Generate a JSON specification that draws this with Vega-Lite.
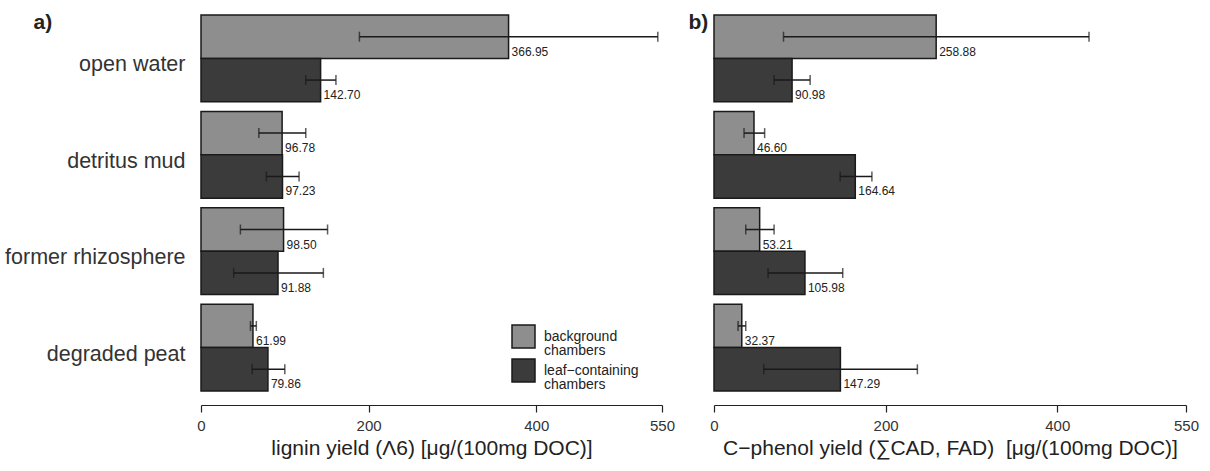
{
  "$schema": "https://vega.github.io/schema/vega-lite/v6.json",
  "background": "white",
  "padding": {"left": 4, "top": 11, "right": 5, "bottom": 5},
  "spacing": 13,
  "config": {
    "font": "Liberation Sans",
    "view": {"stroke": null},
    "style": {"guide-label": {"lineHeight": 14}}
  },
  "datasets": {
    "yields": [
      {"panel": "a", "site": "open water", "chamber": "background chambers", "mean": 366.95, "lo": 189, "hi": 545},
      {"panel": "a", "site": "open water", "chamber": "leaf-containing chambers", "mean": 142.70, "lo": 125, "hi": 161},
      {"panel": "a", "site": "detritus mud", "chamber": "background chambers", "mean": 96.78, "lo": 69, "hi": 125},
      {"panel": "a", "site": "detritus mud", "chamber": "leaf-containing chambers", "mean": 97.23, "lo": 78, "hi": 117},
      {"panel": "a", "site": "former rhizosphere", "chamber": "background chambers", "mean": 98.50, "lo": 47, "hi": 151},
      {"panel": "a", "site": "former rhizosphere", "chamber": "leaf-containing chambers", "mean": 91.88, "lo": 39, "hi": 146},
      {"panel": "a", "site": "degraded peat", "chamber": "background chambers", "mean": 61.99, "lo": 59, "hi": 66},
      {"panel": "a", "site": "degraded peat", "chamber": "leaf-containing chambers", "mean": 79.86, "lo": 61, "hi": 100},
      {"panel": "b", "site": "open water", "chamber": "background chambers", "mean": 258.88, "lo": 81, "hi": 437},
      {"panel": "b", "site": "open water", "chamber": "leaf-containing chambers", "mean": 90.98, "lo": 70, "hi": 112},
      {"panel": "b", "site": "detritus mud", "chamber": "background chambers", "mean": 46.60, "lo": 35, "hi": 59},
      {"panel": "b", "site": "detritus mud", "chamber": "leaf-containing chambers", "mean": 164.64, "lo": 147, "hi": 184},
      {"panel": "b", "site": "former rhizosphere", "chamber": "background chambers", "mean": 53.21, "lo": 37, "hi": 70},
      {"panel": "b", "site": "former rhizosphere", "chamber": "leaf-containing chambers", "mean": 105.98, "lo": 63, "hi": 150},
      {"panel": "b", "site": "degraded peat", "chamber": "background chambers", "mean": 32.37, "lo": 28, "hi": 37},
      {"panel": "b", "site": "degraded peat", "chamber": "leaf-containing chambers", "mean": 147.29, "lo": 58, "hi": 237}
    ]
  },
  "hconcat": [
    {
      "width": 461,
      "height": 376,
      "data": {"name": "yields"},
      "transform": [{"filter": "datum.panel == 'a'"}],
      "encoding": {
        "y": {
          "field": "site", "type": "nominal",
          "sort": ["open water", "detritus mud", "former rhizosphere", "degraded peat"],
          "scale": {"paddingInner": 0.1, "paddingOuter": 0},
          "axis": {
            "title": "a)", "titleAngle": 0, "titleX": -168, "titleY": -4,
            "titleAlign": "left", "titleBaseline": "top",
            "titleFontSize": 21, "titleFontWeight": "bold", "titleColor": "#222",
            "domain": false, "ticks": false, "labelFontSize": 21.5, "labelColor": "#333",
            "labelPadding": 16, "labelLimit": 300, "labelOffset": 7
          }
        },
        "yOffset": {
          "field": "chamber", "type": "nominal",
          "sort": ["background chambers", "leaf-containing chambers"],
          "scale": {"paddingInner": 0, "paddingOuter": 0}
        }
      },
      "layer": [
        {
          "mark": {"type": "bar", "stroke": "#1a1a1a", "strokeWidth": 1.5},
          "encoding": {
            "x": {
              "field": "mean", "type": "quantitative",
              "scale": {"domain": [0, 550], "nice": false, "zero": true},
              "axis": {
                "title": "lignin yield (Λ6) [μg/(100mg DOC)]",
                "values": [0, 200, 400, 550], "grid": false, "offset": 14,
                "domainColor": "#222", "domainWidth": 1.2, "tickColor": "#222", "tickWidth": 1.2,
                "tickSize": 7, "labelFontSize": 15, "labelColor": "#333", "labelPadding": 6,
                "labelFlush": false,
                "titleFontSize": 21, "titleFontWeight": "normal", "titleColor": "#222", "titlePadding": 4
              }
            },
            "color": {
              "field": "chamber", "type": "nominal",
              "scale": {"domain": ["background chambers", "leaf-containing chambers"], "range": ["#8e8e8e", "#3b3b3b"]},
              "legend": {
                "orient": "none", "legendX": 310, "legendY": 309, "title": null,
                "symbolType": "square", "symbolSize": 529, "symbolStrokeColor": "#1a1a1a", "symbolStrokeWidth": 1.5,
                "symbolOpacity": 1,
                "labelFontSize": 14, "labelColor": "#222", "labelOffset": 8, "rowPadding": -21, "padding": 0,
                "labelExpr": "datum.label == 'background chambers' ? ['background', 'chambers'] : ['leaf−containing', 'chambers']"
              }
            }
          }
        },
        {
          "mark": {"type": "rule", "color": "#1a1a1a", "strokeWidth": 1.5},
          "encoding": {"x": {"field": "lo", "type": "quantitative"}, "x2": {"field": "hi"}}
        },
        {
          "mark": {"type": "tick", "color": "#1a1a1a", "thickness": 1.5, "size": 10, "orient": "vertical"},
          "encoding": {"x": {"field": "lo", "type": "quantitative"}}
        },
        {
          "mark": {"type": "tick", "color": "#1a1a1a", "thickness": 1.5, "size": 10, "orient": "vertical"},
          "encoding": {"x": {"field": "hi", "type": "quantitative"}}
        },
        {
          "mark": {"type": "text", "align": "left", "baseline": "middle", "dx": 3, "dy": 15, "fontSize": 12, "color": "#222"},
          "encoding": {
            "x": {"field": "mean", "type": "quantitative"},
            "text": {"field": "mean", "type": "quantitative", "format": ".2f"}
          }
        }
      ]
    },
    {
      "width": 472,
      "height": 376,
      "data": {"name": "yields"},
      "transform": [{"filter": "datum.panel == 'b'"}],
      "encoding": {
        "y": {
          "field": "site", "type": "nominal",
          "sort": ["open water", "detritus mud", "former rhizosphere", "degraded peat"],
          "scale": {"paddingInner": 0.1, "paddingOuter": 0},
          "axis": {
            "title": "b)", "titleAngle": 0, "titleX": -26, "titleY": -4,
            "titleAlign": "left", "titleBaseline": "top",
            "titleFontSize": 21, "titleFontWeight": "bold", "titleColor": "#222",
            "domain": false, "ticks": false, "labels": false
          }
        },
        "yOffset": {
          "field": "chamber", "type": "nominal",
          "sort": ["background chambers", "leaf-containing chambers"],
          "scale": {"paddingInner": 0, "paddingOuter": 0}
        }
      },
      "layer": [
        {
          "mark": {"type": "bar", "stroke": "#1a1a1a", "strokeWidth": 1.5},
          "encoding": {
            "x": {
              "field": "mean", "type": "quantitative",
              "scale": {"domain": [0, 550], "nice": false, "zero": true},
              "axis": {
                "title": "C−phenol yield (∑CAD, FAD)\u00a0 [μg/(100mg DOC)]",
                "values": [0, 200, 400, 550], "grid": false, "offset": 14,
                "domainColor": "#222", "domainWidth": 1.2, "tickColor": "#222", "tickWidth": 1.2,
                "tickSize": 7, "labelFontSize": 15, "labelColor": "#333", "labelPadding": 6,
                "labelFlush": false,
                "titleFontSize": 21, "titleFontWeight": "normal", "titleColor": "#222", "titlePadding": 4
              }
            },
            "color": {
              "field": "chamber", "type": "nominal",
              "scale": {"domain": ["background chambers", "leaf-containing chambers"], "range": ["#8e8e8e", "#3b3b3b"]},
              "legend": null
            }
          }
        },
        {
          "mark": {"type": "rule", "color": "#1a1a1a", "strokeWidth": 1.5},
          "encoding": {"x": {"field": "lo", "type": "quantitative"}, "x2": {"field": "hi"}}
        },
        {
          "mark": {"type": "tick", "color": "#1a1a1a", "thickness": 1.5, "size": 10, "orient": "vertical"},
          "encoding": {"x": {"field": "lo", "type": "quantitative"}}
        },
        {
          "mark": {"type": "tick", "color": "#1a1a1a", "thickness": 1.5, "size": 10, "orient": "vertical"},
          "encoding": {"x": {"field": "hi", "type": "quantitative"}}
        },
        {
          "mark": {"type": "text", "align": "left", "baseline": "middle", "dx": 3, "dy": 15, "fontSize": 12, "color": "#222"},
          "encoding": {
            "x": {"field": "mean", "type": "quantitative"},
            "text": {"field": "mean", "type": "quantitative", "format": ".2f"}
          }
        }
      ]
    }
  ]
}
